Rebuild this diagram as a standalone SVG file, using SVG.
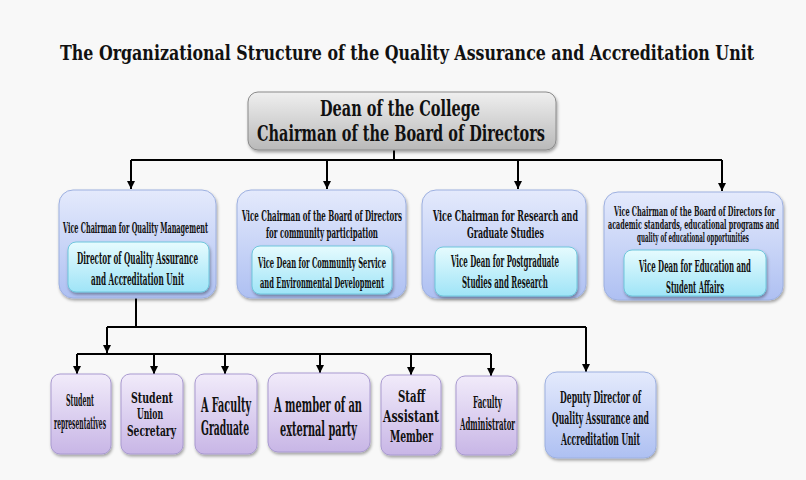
<svg xmlns="http://www.w3.org/2000/svg" width="806" height="480" viewBox="0 0 806 480">
<defs>
<linearGradient id="gGray" x1="0" y1="0" x2="0" y2="1"><stop offset="0" stop-color="#efefef"/><stop offset="1" stop-color="#b9b9b9"/></linearGradient>
<linearGradient id="gBlue" x1="0" y1="0" x2="0" y2="1"><stop offset="0" stop-color="#e4eafc"/><stop offset="1" stop-color="#aec0f2"/></linearGradient>
<linearGradient id="gCyan" x1="0" y1="0" x2="0" y2="1"><stop offset="0" stop-color="#e6fbfe"/><stop offset="1" stop-color="#9fe4f7"/></linearGradient>
<linearGradient id="gPurple" x1="0" y1="0" x2="0" y2="1"><stop offset="0" stop-color="#f1ebfa"/><stop offset="1" stop-color="#c8b6e6"/></linearGradient>
<filter id="sh" x="-10%" y="-10%" width="130%" height="130%"><feDropShadow dx="1" dy="2" stdDeviation="1.5" flood-color="#000" flood-opacity="0.35"/></filter>
<marker id="arr" viewBox="0 0 10 10" refX="10" refY="5" markerWidth="8" markerHeight="8" orient="auto" markerUnits="userSpaceOnUse"><path d="M0,0 L10,5 L0,10 Z" fill="#000"/></marker>
</defs>
<style>
text{font-family:"DejaVu Serif Condensed","DejaVu Serif","Liberation Serif",serif;font-weight:bold;fill:#111;text-anchor:middle}
.gray{fill:url(#gGray);stroke:#8a8a8a;stroke-width:1;filter:url(#sh)}
.blue{fill:url(#gBlue);stroke:#9db0e0;stroke-width:1;filter:url(#sh)}
.cyan{fill:url(#gCyan);stroke:#6fc6dc;stroke-width:1;filter:url(#sh)}
.purple{fill:url(#gPurple);stroke:#a99ad0;stroke-width:1;filter:url(#sh)}
.ln{fill:none;stroke:#000;stroke-width:2}
.ar{fill:none;stroke:#000;stroke-width:2;marker-end:url(#arr)}
</style>
<rect width="806" height="480" fill="#f8f8f8"/>
<text id="title" x="407" y="60" font-size="21" textLength="694" lengthAdjust="spacingAndGlyphs">The Organizational Structure of the Quality Assurance and Accreditation Unit</text>

<g id="connectors">
<path class="ln" d="M394,150 V160 M131,160 H722"/>
<path class="ar" d="M131,160 V189"/>
<path class="ar" d="M327,160 V189"/>
<path class="ar" d="M518,160 V189"/>
<path class="ar" d="M722,160 V191"/>
<path class="ln" d="M136,298 V327 M107,327 H586"/>
<path class="ar" d="M107,327 V353"/>
<path class="ar" d="M586,327 V372"/>
<path class="ln" d="M77,354 H491"/>
<path class="ar" d="M77,354 V374"/>
<path class="ar" d="M154,354 V374"/>
<path class="ar" d="M225,354 V374"/>
<path class="ar" d="M320,354 V373"/>
<path class="ar" d="M411,354 V375"/>
<path class="ar" d="M491,354 V376"/>
</g>

<g id="dean">
<rect class="gray" x="248" y="92" width="308" height="58" rx="10"/>
<text x="400" y="116" font-size="22" textLength="160" lengthAdjust="spacingAndGlyphs">Dean of the College</text>
<text x="401" y="141" font-size="22" textLength="288" lengthAdjust="spacingAndGlyphs">Chairman of the Board of Directors</text>
</g>

<g id="vc-quality">
<rect class="blue" x="59" y="190" width="157" height="108" rx="14"/>
<text x="135.5" y="233" font-size="15" textLength="145" lengthAdjust="spacingAndGlyphs">Vice Chairman for Quality Management</text>
<rect class="cyan" x="68" y="242" width="141" height="50" rx="8"/>
<text x="137.5" y="264" font-size="16" textLength="121" lengthAdjust="spacingAndGlyphs">Director of Quality Assurance</text>
<text x="137.5" y="285" font-size="16" textLength="93" lengthAdjust="spacingAndGlyphs">and Accreditation Unit</text>
</g>

<g id="vc-community">
<rect class="blue" x="237" y="190" width="169" height="108" rx="14"/>
<text x="322" y="221" font-size="15" textLength="160" lengthAdjust="spacingAndGlyphs">Vice Chairman of the Board of Directors</text>
<text x="322" y="238" font-size="15" textLength="112" lengthAdjust="spacingAndGlyphs">for community participation</text>
<rect class="cyan" x="252" y="246" width="140" height="48" rx="8"/>
<text x="322" y="268" font-size="15.5" textLength="128" lengthAdjust="spacingAndGlyphs">Vice Dean for Community Service</text>
<text x="322" y="288" font-size="15.5" textLength="124" lengthAdjust="spacingAndGlyphs">and Environmental Development</text>
</g>

<g id="vc-research">
<rect class="blue" x="422" y="190" width="164" height="108" rx="14"/>
<text x="505.5" y="221" font-size="15" textLength="145" lengthAdjust="spacingAndGlyphs">Vice Chairman for Research and</text>
<text x="505.5" y="238" font-size="15" textLength="77" lengthAdjust="spacingAndGlyphs">Graduate Studies</text>
<rect class="cyan" x="435" y="247" width="142" height="49" rx="8"/>
<text x="505" y="267" font-size="17" textLength="108" lengthAdjust="spacingAndGlyphs">Vice Dean for Postgraduate</text>
<text x="505" y="288" font-size="17" textLength="86" lengthAdjust="spacingAndGlyphs">Studies and Research</text>
</g>

<g id="vc-education">
<rect class="blue" x="604" y="192" width="179" height="108" rx="14"/>
<text x="694.5" y="216" font-size="12" textLength="161" lengthAdjust="spacingAndGlyphs">Vice Chairman of the Board of Directors for</text>
<text x="693.5" y="229" font-size="12" textLength="171" lengthAdjust="spacingAndGlyphs">academic standards, educational programs and</text>
<text x="693" y="242" font-size="12" textLength="112" lengthAdjust="spacingAndGlyphs">quality of educational opportunities</text>
<rect class="cyan" x="624" y="250" width="142" height="46" rx="8"/>
<text x="695" y="272" font-size="17" textLength="112" lengthAdjust="spacingAndGlyphs">Vice Dean for Education and</text>
<text x="695" y="293" font-size="17" textLength="58" lengthAdjust="spacingAndGlyphs">Student Affairs</text>
</g>

<g id="student-reps">
<rect class="purple" x="51" y="374" width="60" height="80" rx="9"/>
<text x="80" y="406" font-size="16" textLength="28" lengthAdjust="spacingAndGlyphs">Student</text>
<text x="80" y="429" font-size="16" textLength="52" lengthAdjust="spacingAndGlyphs">representatives</text>
</g>

<g id="union-secretary">
<rect class="purple" x="121" y="374" width="62" height="80" rx="9"/>
<text x="152" y="403" font-size="15" textLength="42" lengthAdjust="spacingAndGlyphs">Student</text>
<text x="150" y="419" font-size="15" textLength="26" lengthAdjust="spacingAndGlyphs">Union</text>
<text x="151.5" y="436" font-size="15" textLength="49" lengthAdjust="spacingAndGlyphs">Secretary</text>
</g>

<g id="faculty-graduate">
<rect class="purple" x="195" y="374" width="62" height="80" rx="9"/>
<text x="226" y="412" font-size="20" textLength="50" lengthAdjust="spacingAndGlyphs">A Faculty</text>
<text x="225" y="435" font-size="20" textLength="48" lengthAdjust="spacingAndGlyphs">Graduate</text>
</g>

<g id="external-member">
<rect class="purple" x="268" y="373" width="102" height="79" rx="10"/>
<text x="318" y="412" font-size="20" textLength="88" lengthAdjust="spacingAndGlyphs">A member of an</text>
<text x="318.5" y="436" font-size="20" textLength="77" lengthAdjust="spacingAndGlyphs">external party</text>
</g>

<g id="staff-member">
<rect class="purple" x="381" y="375" width="60" height="80" rx="9"/>
<text x="411.5" y="402" font-size="17" textLength="27" lengthAdjust="spacingAndGlyphs">Staff</text>
<text x="411" y="422" font-size="17" textLength="56" lengthAdjust="spacingAndGlyphs">Assistant</text>
<text x="411.5" y="442" font-size="17" textLength="43" lengthAdjust="spacingAndGlyphs">Member</text>
</g>

<g id="faculty-admin">
<rect class="purple" x="456" y="376" width="61" height="79" rx="9"/>
<text x="487.5" y="408" font-size="17" textLength="29" lengthAdjust="spacingAndGlyphs">Faculty</text>
<text x="487.5" y="430" font-size="17" textLength="55" lengthAdjust="spacingAndGlyphs">Administrator</text>
</g>

<g id="deputy-director">
<rect class="blue" x="545" y="372" width="111" height="86" rx="12"/>
<text x="600.5" y="403" font-size="17" textLength="81" lengthAdjust="spacingAndGlyphs">Deputy Director of</text>
<text x="600.5" y="424" font-size="17" textLength="97" lengthAdjust="spacingAndGlyphs">Quality Assurance and</text>
<text x="600.5" y="445" font-size="17" textLength="79" lengthAdjust="spacingAndGlyphs">Accreditation Unit</text>
</g>
</svg>
